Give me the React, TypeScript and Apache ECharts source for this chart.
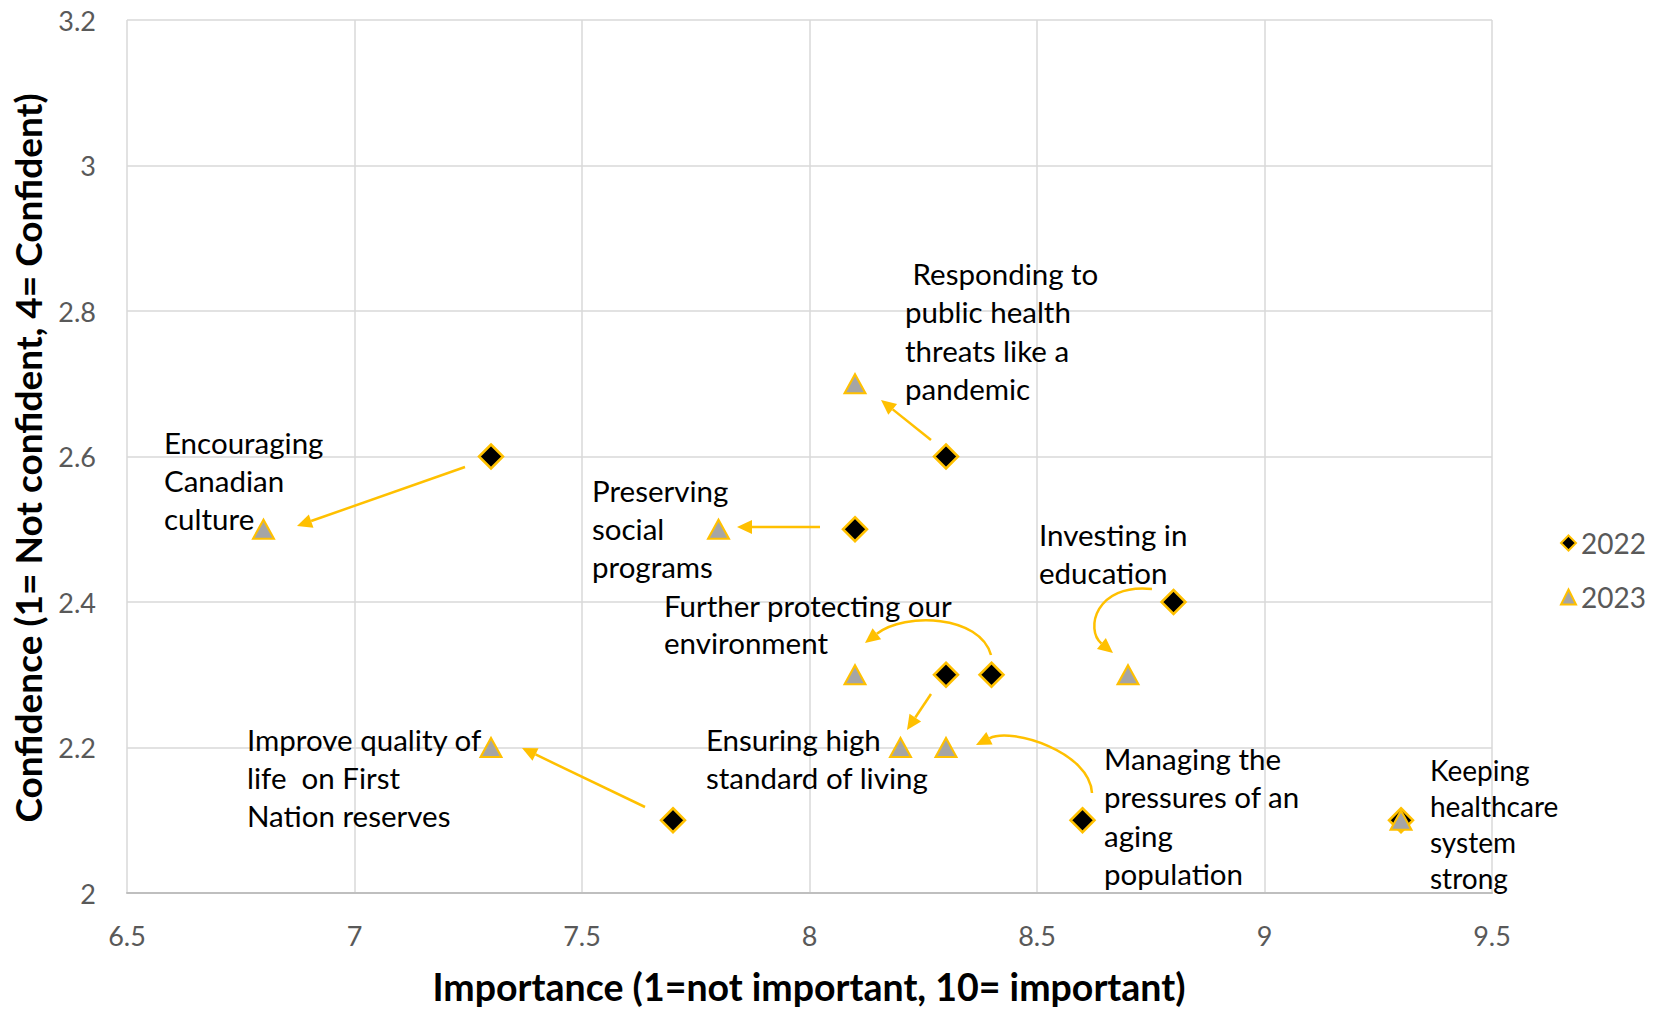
import React, { useEffect, useRef } from "react";
import * as echarts from "echarts";

const categories = [
  "Encouraging Canadian culture",
  "Preserving social programs",
  "Responding to public health threats like a pandemic",
  "Investing in education",
  "Further protecting our environment",
  "Ensuring high standard of living",
  "Improve quality of life on First Nation reserves",
  "Managing the pressures of an aging population",
  "Keeping healthcare system strong",
];
const importance2022 = [7.3, 8.1, 8.3, 8.8, 8.4, 8.3, 7.7, 8.6, 9.3];
const confidence2022 = [2.6, 2.5, 2.6, 2.4, 2.3, 2.3, 2.1, 2.1, 2.1];
const importance2023 = [6.8, 7.8, 8.1, 8.7, 8.1, 8.2, 7.3, 8.3, 9.3];
const confidence2023 = [2.5, 2.5, 2.7, 2.3, 2.3, 2.2, 2.2, 2.2, 2.1];
const seriesNames = ["2022", "2023"];
const labelLines = [
  ["Encouraging", "Canadian", "culture"],
  ["Preserving", "social", "programs"],
  [" Responding to", "public health", "threats like a", "pandemic"],
  ["Investing in", "education"],
  ["Further protecting our", "environment"],
  ["Ensuring high", "standard of living"],
  ["Improve quality of", "life  on First", "Nation reserves"],
  ["Managing the", "pressures of an", "aging", "population"],
  ["Keeping", "healthcare", "system", "strong"],
];
const xTitle = "Importance (1=not important, 10= important)";
const yTitle = "Confidence (1= Not confident, 4= Confident)";

const FONT = "Lato, 'Open Sans', sans-serif";
const ORANGE = "#FFC000";

// label placement (pixels), same order as categories
const labelPos = [
  { x: 164, y: 423, lh: 38, fs: 29.5 },
  { x: 592, y: 471, lh: 38, fs: 29.5 },
  { x: 905, y: 254, lh: 38.5, fs: 29.5 },
  { x: 1039, y: 515, lh: 38, fs: 29.5 },
  { x: 664, y: 587, lh: 37, fs: 29.5 },
  { x: 706, y: 720, lh: 38, fs: 29.5 },
  { x: 247, y: 720, lh: 38, fs: 29.5 },
  { x: 1104, y: 739, lh: 38.5, fs: 29.5 },
  { x: 1430, y: 752, lh: 36, fs: 28 },
];

function arrowHead(tx: number, ty: number, dx: number, dy: number) {
  const len = Math.hypot(dx, dy);
  const ux = dx / len, uy = dy / len;
  const L = 15, W = 7;
  const bx = tx - ux * L, by = ty - uy * L;
  const nx = -uy, ny = ux;
  return {
    base: [bx, by],
    el: {
      type: "polygon",
      shape: { points: [[tx, ty], [bx + nx * W, by + ny * W], [bx - nx * W, by - ny * W]] },
      style: { fill: ORANGE, stroke: null },
      z: 50,
    },
  };
}

function straightArrow(x1: number, y1: number, tx: number, ty: number) {
  const h = arrowHead(tx, ty, tx - x1, ty - y1);
  return [
    { type: "line", shape: { x1, y1, x2: h.base[0], y2: h.base[1] }, style: { stroke: ORANGE, lineWidth: 2.5 }, z: 50 },
    h.el,
  ];
}

function curveArrow(x1: number, y1: number, c1x: number, c1y: number, c2x: number, c2y: number, tx: number, ty: number) {
  const h = arrowHead(tx, ty, tx - c2x, ty - c2y);
  return [
    {
      type: "bezierCurve",
      shape: { x1, y1, cpx1: c1x, cpy1: c1y, cpx2: c2x, cpy2: c2y, x2: h.base[0], y2: h.base[1] },
      style: { stroke: ORANGE, lineWidth: 2.5, fill: null },
      z: 50,
    },
    h.el,
  ];
}

export default function App() {
  const ref = useRef<HTMLDivElement>(null);
  useEffect(() => {
    if (!ref.current) return;
    const chart = echarts.init(ref.current, undefined, { renderer: "svg" });
    const labels = labelLines.map((lines, i) => ({
      type: "text",
      x: labelPos[i].x,
      y: labelPos[i].y,
      z: 60,
      style: {
        text: lines.join("\n"),
        fontFamily: FONT,
        fontSize: labelPos[i].fs,
        lineHeight: labelPos[i].lh,
        fill: "#000000",
        align: "left",
        verticalAlign: "top",
      },
    }));
    const arrows = [
      ...straightArrow(465, 467, 297, 526),
      ...straightArrow(820, 527, 737, 527),
      ...straightArrow(931, 440, 881, 400),
      ...straightArrow(645, 807, 522, 748),
      ...straightArrow(931, 694, 907, 730),
      ...curveArrow(991, 655, 980, 615, 905, 612, 865, 643),
      ...curveArrow(1152, 589, 1095, 583, 1085, 630, 1113, 653),
      ...curveArrow(1092, 793, 1090, 752, 1012, 727, 976, 745),
    ];
    chart.setOption({
      animation: false,
      backgroundColor: "#ffffff",
      grid: { left: 127, right: 172, top: 20, bottom: 116, containLabel: false },
      xAxis: {
        type: "value",
        min: 6.5,
        max: 9.5,
        interval: 0.5,
        axisLine: { show: true, lineStyle: { color: "#BFBFBF", width: 2 } },
        axisTick: { show: false },
        axisLabel: { color: "#595959", fontSize: 27, fontFamily: FONT, margin: 29 },
        splitLine: { show: true, lineStyle: { color: "#D9D9D9", width: 1.5 } },
      },
      yAxis: {
        type: "value",
        min: 2,
        max: 3.2,
        interval: 0.2,
        axisLine: { show: false },
        axisTick: { show: false },
        axisLabel: {
          color: "#595959",
          fontSize: 27,
          fontFamily: FONT,
          margin: 31,
          formatter: (v: number) => String(Math.round(v * 10) / 10),
        },
        splitLine: { show: true, lineStyle: { color: "#D9D9D9", width: 1.5 } },
      },
      legend: {
        orient: "vertical",
        left: 1555,
        top: 524,
        itemGap: 26,
        itemWidth: 15,
        itemHeight: 15,
        data: seriesNames,
        textStyle: { color: "#595959", fontSize: 28, fontFamily: FONT },
      },
      series: [
        {
          name: seriesNames[0],
          type: "scatter",
          symbol: "diamond",
          symbolSize: 24,
          itemStyle: { color: "#000000", borderColor: ORANGE, borderWidth: 2.5, opacity: 1 },
          data: importance2022.map((x, i) => ({ value: [x, confidence2022[i]], name: categories[i] })),
          z: 3,
        },
        {
          name: seriesNames[1],
          type: "scatter",
          symbol: "triangle",
          symbolSize: [21, 19],
          itemStyle: { color: "#A5A5A5", borderColor: ORANGE, borderWidth: 2, opacity: 1 },
          data: importance2023.map((x, i) => ({ value: [x, confidence2023[i]], name: categories[i] })),
          z: 4,
        },
      ],
      graphic: [
        ...arrows,
        ...labels,
        {
          type: "text",
          x: 809,
          y: 986,
          style: {
            text: xTitle,
            fontFamily: FONT,
            fontWeight: "bold",
            fontSize: 37.5,
            fill: "#000000",
            align: "center",
            verticalAlign: "middle",
          },
        },
        {
          type: "text",
          x: 27,
          y: 458,
          rotation: Math.PI / 2,
          style: {
            text: yTitle,
            fontFamily: FONT,
            fontWeight: "bold",
            fontSize: 37,
            fill: "#000000",
            align: "center",
            verticalAlign: "middle",
          },
        },
      ],
    });
    return () => chart.dispose();
  }, []);
  return (
    <div
      ref={ref}
      style={{ position: "fixed", left: 0, top: 0, width: 1664, height: 1009, background: "#fff" }}
    />
  );
}
